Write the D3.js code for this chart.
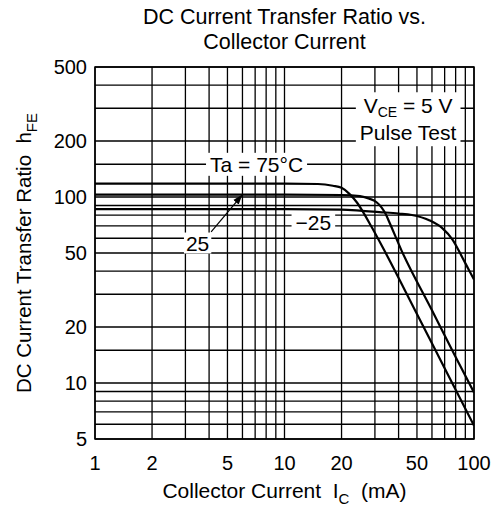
<!DOCTYPE html>
<meta charset="utf-8">
<style>
  body { margin: 0; background: #fff; }
  text { font-family: "Liberation Sans", Arial, sans-serif; fill: #000; }
</style>
<body>
  <div id="box1"></div>
</body>
<script src="https://cdnjs.cloudflare.com/ajax/libs/d3/7.8.5/d3.min.js"></script>
<script>

// axis ticks and grid
var xTicks = [1, 2, 5, 10, 20, 50, 100];
var yTicks = [5, 10, 20, 50, 100, 200, 500];
var xGrid = [1, 2, 3, 4, 5, 6, 7, 8, 9, 10, 20, 30, 40, 50, 60, 70, 80, 90, 100];
var yGrid = [5, 6, 7, 8, 9, 10, 15, 20, 30, 40, 50, 60, 70, 80, 90, 100, 150, 200, 300, 400, 500];

// Ta = 75 C
var ic75 = [1, 5, 10, 15, 18, 20, 22, 24, 26, 28.6, 33.5, 50, 70, 100];
var hfe75 = [118, 118, 118, 117.5, 115, 112, 104, 94, 83, 70, 52, 23.5, 12, 5.9];
// Ta = 25 C
var ic25 = [1, 10, 20, 25, 28, 30.5, 32.5, 34.2, 36, 41.3, 60, 80, 100];
var hfe25 = [103, 103, 102.5, 101, 98, 94, 88, 81, 72, 52, 24.6, 13.8, 8.9];
// Ta = -25 C
var icM25 = [1, 10, 20, 25, 31.6, 40, 47, 58, 68, 77, 86.5, 94, 100];
var hfeM25 = [86, 86, 85.5, 84.5, 83, 81.5, 80, 75, 68, 59, 47.6, 40.5, 36];

var width = 502, height = 509;
var margin = {top: 67, right: 28, bottom: 70, left: 95};

var x = d3.scaleLog().domain([1, 100]).range([margin.left, width - margin.right]);
var y = d3.scaleLog().domain([5, 500]).range([height - margin.bottom, margin.top]);

var svg = d3.select('#box1').append('svg')
    .attr('width', width)
    .attr('height', height);

// grid
svg.append('g')
  .selectAll('line')
  .data(xGrid)
  .join('line')
    .attr('x1', d => x(d)).attr('x2', d => x(d))
    .attr('y1', y(5)).attr('y2', y(500))
    .attr('stroke', '#000').attr('stroke-width', 1.3);

svg.append('g')
  .selectAll('line')
  .data(yGrid)
  .join('line')
    .attr('y1', d => y(d)).attr('y2', d => y(d))
    .attr('x1', x(1)).attr('x2', x(100))
    .attr('stroke', '#000').attr('stroke-width', 1.3);

// curves
var line = d3.line()
    .x(d => x(d[0]))
    .y(d => y(d[1]))
    .curve(d3.curveMonotoneX);

var curves = [
  d3.zip(ic75, hfe75),
  d3.zip(ic25, hfe25),
  d3.zip(icM25, hfeM25)
];

svg.append('defs').append('clipPath').attr('id', 'clip')
  .append('rect')
    .attr('x', x(1)).attr('y', y(500))
    .attr('width', x(100) - x(1)).attr('height', y(5) - y(500));

svg.append('g')
    .attr('clip-path', 'url(#clip)')
  .selectAll('path')
  .data(curves)
  .join('path')
    .attr('d', line)
    .attr('fill', 'none')
    .attr('stroke', '#000')
    .attr('stroke-width', 2.2);

// labels with white background
function boxed(g, pad) {
  var b = g.node().getBBox();
  g.insert('rect', ':first-child')
    .attr('x', b.x - pad[0]).attr('y', b.y - pad[1])
    .attr('width', b.width + 2 * pad[0]).attr('height', b.height + 2 * pad[1])
    .attr('fill', '#fff');
}

var lbl75 = svg.append('g');
lbl75.append('text')
    .attr('x', x(7.12)).attr('y', y(150))
    .attr('dy', '0.36em')
    .attr('text-anchor', 'middle')
    .style('font-size', '21px')
    .text('Ta = 75°C');
boxed(lbl75, [4, 0]);

var lblM25 = svg.append('g');
lblM25.append('text')
    .attr('x', x(14.2)).attr('y', y(73.4))
    .attr('dy', '0.36em')
    .attr('text-anchor', 'middle')
    .style('font-size', '21px')
    .text('\u221225');
boxed(lblM25, [4, -2]);

// arrow for 25
svg.append('defs').append('marker')
    .attr('id', 'arrow')
    .attr('viewBox', '0 0 10 10')
    .attr('refX', 10).attr('refY', 5)
    .attr('markerWidth', 10).attr('markerHeight', 10)
    .attr('markerUnits', 'userSpaceOnUse')
    .attr('orient', 'auto')
  .append('path')
    .attr('d', 'M0,1.5L10,5L0,8.5Z')
    .attr('fill', '#000');

var lbl25 = svg.append('g');
lbl25.append('text')
    .attr('x', x(3.48)).attr('y', y(56.6))
    .attr('dy', '0.36em')
    .attr('text-anchor', 'middle')
    .style('font-size', '21px')
    .text('25');
boxed(lbl25, [2, -1]);

svg.append('line')
    .attr('x1', x(4.1)).attr('y1', y(65))
    .attr('x2', x(6)).attr('y2', y(103))
    .attr('stroke', '#000').attr('stroke-width', 1.2)
    .attr('marker-end', 'url(#arrow)');

// VCE box
var lblV = svg.append('g');
var t1 = lblV.append('text')
    .attr('x', x(44.9)).attr('y', y(282))
    .attr('text-anchor', 'middle')
    .style('font-size', '21px');
t1.append('tspan').text('V');
t1.append('tspan').text('CE').style('font-size', '14px').attr('dy', 4);
t1.append('tspan').text(' = 5 V').attr('dy', -4);
lblV.append('text')
    .attr('x', x(44.9)).attr('y', y(202))
    .attr('text-anchor', 'middle')
    .style('font-size', '21px')
    .text('Pulse Test');
boxed(lblV, [4, 2]);

// frame
svg.append('rect')
    .attr('x', x(1)).attr('y', y(500))
    .attr('width', x(100) - x(1)).attr('height', y(5) - y(500))
    .attr('fill', 'none').attr('stroke', '#000').attr('stroke-width', 1.5);

// tick labels
svg.append('g')
  .selectAll('text')
  .data(xTicks)
  .join('text')
    .attr('x', d => x(d))
    .attr('y', height - margin.bottom + 31)
    .attr('text-anchor', 'middle')
    .style('font-size', '20px')
    .text(d => d);

svg.append('g')
  .selectAll('text')
  .data(yTicks)
  .join('text')
    .attr('x', margin.left - 8)
    .attr('y', d => y(d))
    .attr('dy', '0.36em')
    .attr('text-anchor', 'end')
    .style('font-size', '20px')
    .text(d => d);

// titles
svg.append('text')
    .attr('x', (x(1) + x(100)) / 2).attr('y', 24)
    .attr('text-anchor', 'middle')
    .style('font-size', '21.5px')
    .text('DC Current Transfer Ratio vs.');
svg.append('text')
    .attr('x', (x(1) + x(100)) / 2).attr('y', 49)
    .attr('text-anchor', 'middle')
    .style('font-size', '21.5px')
    .text('Collector Current');

var xt = svg.append('text')
    .attr('x', (x(1) + x(100)) / 2).attr('y', 498)
    .attr('text-anchor', 'middle')
    .style('font-size', '21px')
    .attr('xml:space', 'preserve');
xt.append('tspan').text('Collector Current  I');
xt.append('tspan').text('C').style('font-size', '15px').attr('dy', 6);
xt.append('tspan').text('  (mA)').attr('dy', -6);

var yt = svg.append('text')
    .attr('transform', 'translate(31,' + ((y(5) + y(500)) / 2) + ') rotate(-90)')
    .attr('text-anchor', 'middle')
    .style('font-size', '20.5px')
    .attr('xml:space', 'preserve');
yt.append('tspan').text('DC Current Transfer Ratio  h');
yt.append('tspan').text('FE').style('font-size', '15px').attr('dy', 6);

</script>
